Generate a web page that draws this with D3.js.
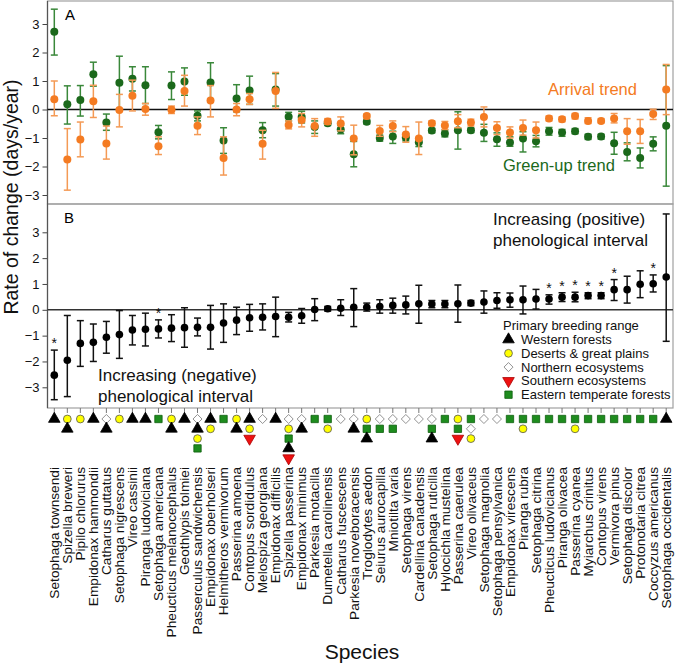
<!DOCTYPE html>
<html>
<head>
<meta charset="utf-8">
<script src="https://cdn.jsdelivr.net/npm/d3@7"></script>
<style>
  html, body { margin: 0; padding: 0; background: #fff; }
  svg { display: block; font-family: "Liberation Sans", Arial, sans-serif; }
</style>
</head>
<body>
<svg id="chart" width="675" height="664"></svg>
<script>
// ---------------- DATA ----------------
const species = [
  "Setophaga townsendi","Spizella breweri","Pipilo chlorurus","Empidonax hammondii",
  "Catharus guttatus","Setophaga nigrescens","Vireo cassinii","Piranga ludoviciana",
  "Setophaga americana","Pheucticus melanocephalus","Geothlypis tolmiei","Passerculus sandwichensis",
  "Empidonax oberholseri","Helmitheros vermivorum","Passerina amoena","Contopus sordidulus",
  "Melospiza georgiana","Empidonax difficilis","Spizella passerina","Empidonax minimus",
  "Parkesia motacilla","Dumetella carolinensis","Catharus fuscescens","Parkesia noveboracensis",
  "Troglodytes aedon","Seiurus aurocapilla","Mniotilta varia","Setophaga virens",
  "Cardellina canadensis","Setophaga ruticilla","Hylocichla mustelina","Passerina caerulea",
  "Vireo olivaceus","Setophaga magnolia","Setophaga pensylvanica","Empidonax virescens",
  "Piranga rubra","Setophaga citrina","Pheucticus ludovicianus","Piranga olivacea",
  "Passerina cyanea","Myiarchus crinitus","Contopus virens","Vermivora pinus",
  "Setophaga discolor","Protonotaria citrea","Coccyzus americanus","Setophaga occidentalis"
];

// Panel A: green-up trend (value, lower, upper)
const greenup = [2.73,0.18,0.33,1.24,-0.46,0.94,1.08,0.85,-0.80,0.84,0.98,-0.22,0.95,-1.09,0.39,0.67,-0.73,0.70,-0.25,-0.26,-0.61,-0.48,-0.70,-1.57,-0.43,-1.00,-0.95,-0.98,-1.15,-0.74,-0.84,-0.73,-0.73,-0.82,-1.04,-1.16,-1.02,-1.11,-0.76,-0.81,-0.76,-0.96,-0.95,-1.18,-1.49,-1.70,-1.20,-0.57];
const greenupLo = [1.91,-0.51,-0.23,0.82,-0.73,0.00,0.65,0.21,-1.03,0.35,0.50,-0.40,0.27,-1.54,-0.08,0.18,-0.99,0.12,-0.40,-0.47,-0.84,-0.56,-0.85,-2.01,-0.51,-1.11,-1.19,-1.10,-1.30,-0.82,-0.96,-1.39,-0.81,-1.12,-1.29,-1.29,-1.49,-1.31,-0.90,-0.94,-0.85,-1.05,-1.04,-1.57,-1.80,-2.05,-1.45,-2.69];
const greenupHi = [3.52,0.83,0.84,1.66,-0.16,1.87,1.50,1.50,-0.56,1.32,1.46,-0.05,1.64,-0.64,0.87,1.17,-0.46,1.26,-0.10,-0.06,-0.40,-0.40,-0.55,-1.12,-0.37,-0.90,-0.76,-0.85,-1.00,-0.66,-0.72,-0.08,-0.65,-0.52,-0.82,-0.96,-0.78,-0.91,-0.63,-0.70,-0.67,-0.87,-0.87,-0.80,-1.17,-1.35,-0.96,1.54];

// Panel A: arrival trend
const arrival = [0.36,-1.75,-1.05,0.29,-1.19,-0.02,0.48,0.02,-1.29,-0.01,0.65,-0.57,0.32,-1.70,0.00,0.36,-1.20,0.65,-0.54,-0.37,-0.58,-0.42,-0.49,-1.02,-0.23,-0.75,-0.58,-0.88,-1.02,-0.48,-0.56,-0.41,-0.46,-0.26,-0.65,-0.81,-0.65,-0.73,-0.32,-0.34,-0.23,-0.40,-0.40,-0.32,-0.76,-0.76,-0.16,0.70];
const arrivalLo = [-0.22,-2.83,-1.66,-0.28,-1.74,-0.61,-0.05,-0.20,-1.58,-0.14,0.12,-0.88,-0.26,-2.30,-0.22,0.18,-1.74,0.04,-0.68,-0.61,-0.94,-0.52,-0.75,-1.59,-0.32,-0.94,-0.78,-1.15,-1.58,-0.57,-0.70,-0.64,-0.58,-0.61,-0.88,-1.00,-0.90,-1.00,-0.40,-0.43,-0.33,-0.49,-0.47,-0.47,-1.22,-1.19,-0.35,-0.18];
const arrivalHi = [1.00,-0.67,-0.44,0.85,-0.58,0.53,1.03,0.21,-0.96,0.12,1.20,-0.26,0.84,-0.96,0.21,0.56,-0.73,1.30,-0.40,-0.14,-0.32,-0.32,-0.26,-0.55,-0.16,-0.56,-0.40,-0.60,-0.44,-0.40,-0.42,-0.18,-0.34,0.09,-0.43,-0.61,-0.37,-0.44,-0.23,-0.26,-0.14,-0.29,-0.32,-0.14,-0.32,-0.35,0.01,1.58];

// Panel B: phenological interval trend
const interval = [-2.53,-1.95,-1.30,-1.26,-1.06,-0.96,-0.78,-0.75,-0.74,-0.71,-0.69,-0.68,-0.68,-0.51,-0.40,-0.31,-0.29,-0.26,-0.29,-0.23,0.01,0.04,0.06,0.10,0.10,0.13,0.17,0.19,0.23,0.22,0.22,0.23,0.26,0.30,0.36,0.39,0.39,0.42,0.42,0.49,0.49,0.55,0.55,0.78,0.78,0.99,1.01,1.27];
const intervalLo = [-3.48,-3.36,-2.19,-2.00,-1.68,-1.88,-1.36,-1.40,-1.09,-1.23,-1.45,-1.01,-1.52,-1.26,-0.96,-0.83,-0.78,-1.04,-0.47,-0.52,-0.42,-0.05,-0.22,-0.65,-0.05,-0.13,-0.13,-0.16,-0.52,0.08,0.08,-0.48,0.16,-0.13,0.06,0.10,-0.16,0.03,0.22,0.32,0.31,0.43,0.43,0.36,0.26,0.47,0.69,-1.22];
const intervalHi = [-1.56,-0.22,-0.42,-0.55,-0.45,-0.03,-0.22,-0.13,-0.39,-0.19,0.08,-0.32,0.17,0.23,0.10,0.21,0.23,0.49,-0.10,0.05,0.43,0.13,0.39,0.82,0.26,0.39,0.45,0.53,0.95,0.36,0.36,0.96,0.36,0.73,0.66,0.65,0.92,0.79,0.58,0.66,0.68,0.66,0.66,1.17,1.30,1.51,1.35,3.71];

// species with significant interval trend (marked *)
const significant = [0,8,38,39,40,41,42,43,46];

// Primary breeding range codes, stacked top-to-bottom
// W western forests, D deserts & great plains, N northern, S southern, E eastern temperate forests
const ranges = ["W","DW","D","W","NW","D","W","W","E","DW","W","NWDE","WD","E","DW","WDS","N","W","NDEWS","NW",
  "E","ED","N","NW","DEW","NE","NE","N","N","NEW","E","DES","END","N","N","E","ED","E","E","E","ED","E","E","E","E","E","E","W"];

const rangeNames = {W:"Western forests", D:"Deserts & great plains", N:"Northern ecosystems", S:"Southern ecosystems", E:"Eastern temperate forests"};
const legendOrder = ["W","D","N","S","E"];
const yTicks = [-3,-2,-1,0,1,2,3];

// ---------------- LAYOUT ----------------
const svg = d3.select("#chart");
const L = 47.5, R = 673, topA = 1, mid = 204, botB = 408;

const x = d3.scalePoint().domain(species).range([54.3, 666.2]);
const yA = d3.scaleLinear().domain([-3, 3]).range([195, 24]);
const yB = d3.scaleLinear().domain([-3, 3]).range([387.3, 232.3]);

const greenDot = "#1b691b", greenBar = "#3a883a";
const orangeDot = "#f47b22", orangeBar = "#f49a55";
const font = "'Liberation Sans', Arial, sans-serif";

// frames
svg.append("rect").attr("x", L).attr("y", topA).attr("width", R - L).attr("height", mid - topA)
  .attr("fill", "none").attr("stroke", "#a0a0a0").attr("stroke-width", 1.2);
svg.append("rect").attr("x", L).attr("y", mid).attr("width", R - L).attr("height", botB - mid)
  .attr("fill", "none").attr("stroke", "#a0a0a0").attr("stroke-width", 1.2);

// y axes
function yAxis(scale) {
  const g = svg.append("g").attr("transform", `translate(${L},0)`)
    .call(d3.axisLeft(scale).tickValues(yTicks).tickSize(5).tickPadding(3).tickFormat(d3.format("d")));
  g.select(".domain").remove();
  g.selectAll("line").attr("stroke", "#444");
  g.selectAll("text").attr("font-size", 13).attr("font-family", font).attr("fill", "#111");
}
yAxis(yA);
yAxis(yB);
// left axis lines
svg.append("line").attr("x1", L).attr("x2", L).attr("y1", topA).attr("y2", botB).attr("stroke", "#555").attr("stroke-width", 1.2);

// zero lines
svg.append("line").attr("x1", L).attr("x2", R).attr("y1", yA(0)).attr("y2", yA(0)).attr("stroke", "#111").attr("stroke-width", 1.3);
svg.append("line").attr("x1", L).attr("x2", R).attr("y1", yB(0)).attr("y2", yB(0)).attr("stroke", "#333").attr("stroke-width", 1.6);

// error bar helper
function errorBars(g, scale, vals, lo, hi, barColor, dotColor, r) {
  const cap = 3.5;
  const grp = g.append("g");
  species.forEach((s, i) => {
    const cx = x(s);
    grp.append("line").attr("x1", cx).attr("x2", cx).attr("y1", scale(lo[i])).attr("y2", scale(hi[i]))
      .attr("stroke", barColor).attr("stroke-width", 1.5);
    [lo[i], hi[i]].forEach(v => {
      grp.append("line").attr("x1", cx - cap).attr("x2", cx + cap).attr("y1", scale(v)).attr("y2", scale(v))
        .attr("stroke", barColor).attr("stroke-width", 1.5);
    });
  });
  grp.selectAll("circle.dot").data(species).join("circle").attr("class", "dot")
    .attr("cx", d => x(d)).attr("cy", (d, i) => scale(vals[i])).attr("r", r).attr("fill", dotColor);
}

const plot = svg.append("g");
errorBars(plot, yA, greenup, greenupLo, greenupHi, greenBar, greenDot, 4);
errorBars(plot, yA, arrival, arrivalLo, arrivalHi, orangeBar, orangeDot, 4);
errorBars(plot, yB, interval, intervalLo, intervalHi, "#111", "#000", 3.8);

// significance stars
svg.append("g").selectAll("text").data(significant).join("text")
  .attr("x", i => x(species[i])).attr("y", i => yB(intervalHi[i]) - 2)
  .attr("text-anchor", "middle").attr("font-size", 14).attr("font-family", font).attr("fill", "#111").text("*");

// panel letters
svg.append("text").attr("x", 65).attr("y", 20).attr("font-size", 15).attr("font-family", font).text("A");
svg.append("text").attr("x", 64).attr("y", 223).attr("font-size", 15).attr("font-family", font).text("B");

// trend labels in panel A
svg.append("text").attr("x", 548).attr("y", 95).attr("font-size", 16.5).attr("font-family", font)
  .attr("fill", orangeDot).text("Arrival trend");
svg.append("text").attr("x", 503).attr("y", 171).attr("font-size", 16.5).attr("font-family", font)
  .attr("fill", greenDot).text("Green-up trend");

// interval annotations in panel B
function twoLine(xp, yp, lines) {
  const t = svg.append("text").attr("x", xp).attr("y", yp).attr("font-size", 17).attr("font-family", font).attr("fill", "#111");
  lines.forEach((ln, k) => t.append("tspan").attr("x", xp).attr("dy", k === 0 ? 0 : 20.5).text(ln));
}
twoLine(493, 225, ["Increasing (positive)", "phenological interval"]);
twoLine(98, 381, ["Increasing (negative)", "phenological interval"]);

// symbol makers
const symDefs = {
  W: {type: d3.symbolTriangle, size: 58, fill: "#000", stroke: "#000", rot: 0},
  D: {type: d3.symbolCircle, size: 48, fill: "#ffff00", stroke: "#555", rot: 0},
  N: {type: d3.symbolDiamond2, size: 52, fill: "#fff", stroke: "#777", rot: 0},
  S: {type: d3.symbolTriangle, size: 58, fill: "#ee1111", stroke: "#a00", rot: 180},
  E: {type: d3.symbolSquare, size: 54, fill: "#1e8c1e", stroke: "#0d5e0d", rot: 0}
};
function drawSym(g, code, cx, cy) {
  const d = symDefs[code];
  g.append("path").attr("d", d3.symbol().type(d.type).size(d.size)())
    .attr("transform", `translate(${cx},${cy}) rotate(${d.rot})`)
    .attr("fill", d.fill).attr("stroke", d.stroke).attr("stroke-width", 0.8);
}

// legend
svg.append("text").attr("x", 503).attr("y", 330).attr("font-size", 13).attr("font-family", font).attr("fill", "#111")
  .text("Primary breeding range");
const lg = svg.append("g");
legendOrder.forEach((c, k) => {
  const yy = 344 + k * 13.8;
  drawSym(lg, c, 508.5, yy - 4.5);
  lg.append("text").attr("x", 521).attr("y", yy).attr("font-size", 13).attr("font-family", font).attr("fill", "#111")
    .text(rangeNames[c]);
});

// bottom ticks
const bt = svg.append("g");
species.forEach(s => {
  bt.append("line").attr("x1", x(s)).attr("x2", x(s)).attr("y1", botB).attr("y2", botB + 5)
    .attr("stroke", "#777").attr("stroke-width", 1);
});

// range symbols stacked under each species
const symG = svg.append("g");
species.forEach((s, i) => {
  ranges[i].split("").forEach((c, k) => drawSym(symG, c, x(s), 419 + k * 9.8));
});

// species labels
svg.append("g").selectAll("text").data(species).join("text")
  .attr("transform", d => `translate(${x(d)},467) rotate(-90)`)
  .attr("dy", "0.35em").attr("text-anchor", "end")
  .attr("font-size", 13.7).attr("font-family", font).attr("fill", "#111").text(d => d);

// axis titles
svg.append("text").attr("transform", "translate(18,197) rotate(-90)").attr("text-anchor", "middle")
  .attr("font-size", 19.5).attr("font-family", font).attr("fill", "#111").text("Rate of change (days/year)");
svg.append("text").attr("x", 362).attr("y", 659).attr("text-anchor", "middle")
  .attr("font-size", 21).attr("font-family", font).attr("fill", "#111").text("Species");
</script>
</body>
</html>
